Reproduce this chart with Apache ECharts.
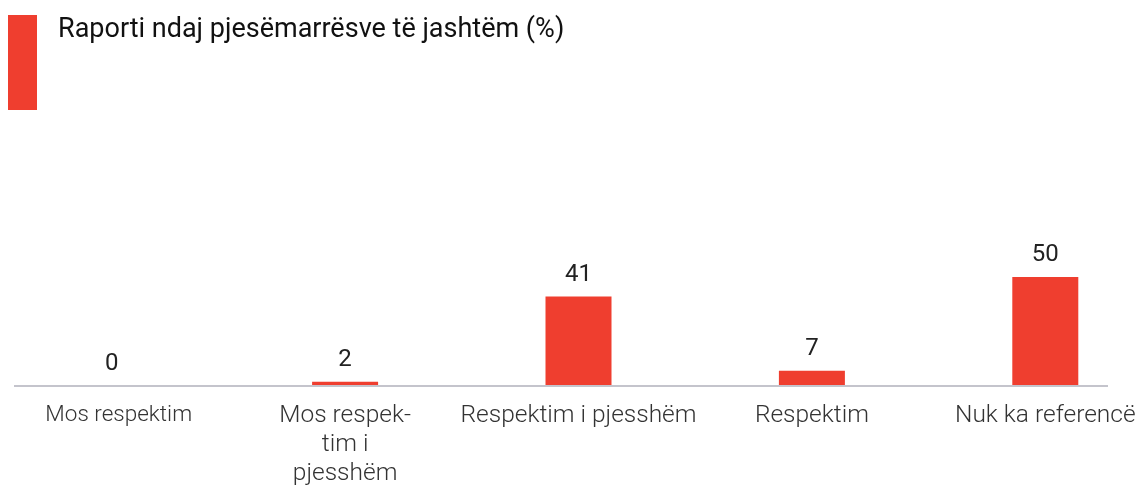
<!DOCTYPE html>
<html>
<head>
<meta charset="utf-8">
<script src="https://cdn.jsdelivr.net/npm/echarts@6/dist/echarts.min.js"></script>
<style>
  html, body { margin: 0; padding: 0; background: #fff; }
  #chart { width: 1140px; height: 486px; }
</style>
</head>
<body>
<div id="chart"></div>
<script>
const categories = ['Mos respektim', 'Mos respek-\ntim i\npjesshëm', 'Respektim i pjesshëm', 'Respektim', 'Nuk ka referencë']
const values = [0, 2, 41, 7, 50]
const titleText = 'Raporti ndaj pjesëmarrësve të jashtëm (%)'

const chart = echarts.init(document.getElementById('chart'))

chart.setOption({
  animation: false,
  title: {
    text: titleText,
    left: 53,
    top: 12,
    textStyle: {
      fontFamily: 'Roboto',
      fontWeight: 'normal',
      fontSize: 27,
      color: '#111'
    }
  },
  grid: {
    left: -5,
    right: -22,
    top: 168,
    bottom: 100,
    outerBoundsMode: 'none'
  },
  xAxis: {
    type: 'category',
    data: categories,
    axisLine: { show: false },
    axisTick: { show: false },
    axisLabel: {
      interval: 0,
      margin: 15,
      fontFamily: 'Roboto',
      fontWeight: 300,
      fontSize: 24.5,
      lineHeight: 29,
      color: '#333',
      // first label is a bit smaller and sits right of centre in the original
      formatter: (val, idx) => idx === 0 ? '{s|' + val + '}' : val,
      rich: {
        s: {
          fontFamily: 'Roboto',
          fontWeight: 300,
          fontSize: 22.5,
          lineHeight: 29,
          color: '#333',
          padding: [0, 0, 0, 14]
        }
      }
    }
  },
  yAxis: {
    type: 'value',
    min: 0,
    max: 100,
    show: false
  },
  series: [
    {
      type: 'bar',
      data: values,
      barWidth: 66,
      itemStyle: { color: '#ef3e2f' },
      label: {
        show: true,
        position: 'top',
        distance: 10,
        fontFamily: 'Roboto',
        fontSize: 24,
        color: '#222'
      }
    }
  ],
  graphic: [
    // red marker left of the title
    {
      type: 'rect',
      shape: { x: 8, y: 15, width: 29, height: 95 },
      style: { fill: '#ef3e2f' }
    },
    // baseline
    {
      type: 'line',
      shape: { x1: 14, y1: 386, x2: 1108, y2: 386 },
      style: { stroke: '#c4c4cc', lineWidth: 2 },
      z: 10
    }
  ]
})
</script>
</body>
</html>
